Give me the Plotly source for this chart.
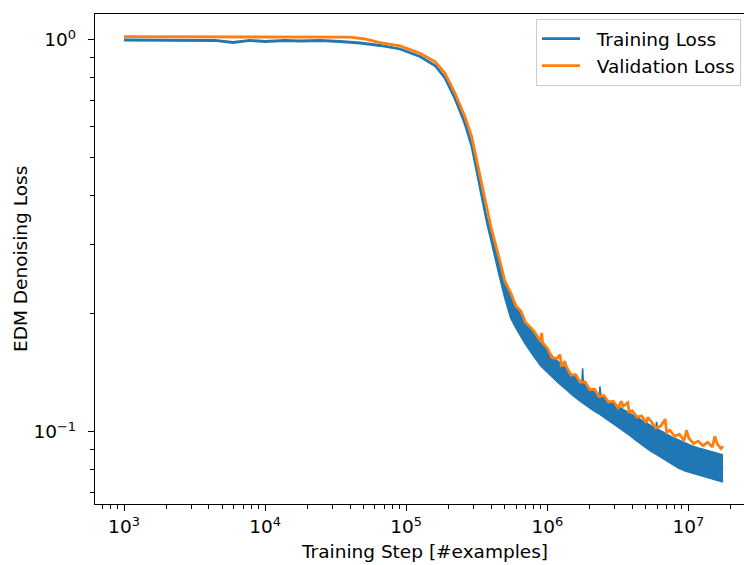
import plotly.graph_objects as go

# ---- Validation loss (orange) ----
val_step = [1e3, 3e3, 1e4, 2e4, 3e4, 4.0e4, 5.1e4, 6.52e4, 9.04e4, 1.253e5, 1.60e5,
            1.884e5, 2.218e5, 2.61e5, 2.912e5, 3.159e5, 3.429e5, 3.72e5, 4.0e5, 4.5e5,
            5.0e5, 5.5e5, 6.0e5, 6.5e5, 7.0e5, 8.0e5, 9.0e5, 9.13e5, 9.25e5,
            1.0e6, 1.08e6, 1.17e6, 1.23e6, 1.26e6, 1.33e6, 1.36e6, 1.47e6, 1.59e6, 1.71e6,
            1.85e6, 2.0e6, 2.16e6, 2.33e6, 2.52e6, 2.72e6, 2.94e6, 3.17e6, 3.36e6, 3.43e6,
            3.72e6, 3.8e6, 4.0e6, 4.32e6, 4.66e6, 5.03e6, 5.15e6, 5.44e6, 5.87e6, 6.34e6,
            6.85e6, 7.0e6, 7.4e6, 7.99e6, 8.63e6, 9.32e6, 9.7e6, 1.007e7, 1.087e7, 1.174e7,
            1.268e7, 1.37e7, 1.48e7, 1.54e7, 1.60e7, 1.70e7, 1.76e7]
val_loss = [1.0196, 1.0200, 1.0195, 1.0205, 1.0190, 1.0166, 1.0059, 0.9843, 0.9654, 0.9249, 0.8804,
            0.8225, 0.7314, 0.6370, 0.5669, 0.4944, 0.4222, 0.3685, 0.3315, 0.2828,
            0.2428, 0.2265, 0.2095, 0.2035, 0.1905, 0.1815, 0.1700, 0.1790, 0.1690,
            0.1638, 0.1547, 0.1540, 0.1575, 0.1469, 0.1515, 0.1471, 0.1398, 0.1400, 0.1339,
            0.1343, 0.1283, 0.1286, 0.1231, 0.1239, 0.1191, 0.1198, 0.1153, 0.1198, 0.1163,
            0.1188, 0.1125, 0.1133, 0.1091, 0.1099, 0.1056, 0.1090, 0.1065, 0.1023, 0.1034,
            0.1078, 0.0999, 0.1010, 0.0975, 0.0987, 0.0951, 0.1010, 0.0965, 0.0935, 0.0948,
            0.0923, 0.0941, 0.0915, 0.0975, 0.0933, 0.0907, 0.0920]

# ---- Training loss (blue): running value ----
train_step = [1e3, 2.494e3, 4.415e3, 5.922e3, 7.816e3, 9.985e3, 1.384e4, 1.767e4, 2.449e4,
              3.395e4, 4.705e4, 6.522e4, 9.037e4, 1.253e5, 1.60e5, 1.884e5, 2.218e5,
              2.61e5, 2.912e5, 3.159e5, 3.429e5, 3.72e5,
              4.0e5, 4.5e5, 5.0e5, 5.5e5, 6.0e5, 6.5e5, 7.0e5, 8.0e5, 9.0e5, 1.0e6,
              1.1e6, 1.2e6, 1.35e6, 1.5e6, 1.7e6, 1.9e6, 2.1e6, 2.4e6, 2.7e6, 3.0e6,
              3.4e6, 3.8e6, 4.3e6, 4.8e6, 5.4e6, 6.0e6, 6.8e6, 7.6e6, 8.5e6, 9.5e6,
              1.06e7, 1.18e7, 1.32e7, 1.47e7, 1.62e7, 1.76e7]
train_loss = [1.0, 1.0, 0.9971, 0.9854, 0.9971, 0.9912, 0.9971, 0.9941, 0.9971,
              0.9912, 0.9825, 0.9682, 0.9485, 0.9076, 0.8609, 0.8000, 0.7092,
              0.6123, 0.5381, 0.4660, 0.3988, 0.3474,
              0.3144, 0.2667, 0.2302, 0.2084, 0.1965, 0.1864, 0.1789, 0.1672, 0.1582, 0.1517,
              0.1460, 0.1419, 0.1369, 0.1318, 0.1272, 0.1235, 0.1203, 0.1169, 0.1135, 0.1108,
              0.1076, 0.1048, 0.1018, 0.0991, 0.0965, 0.0943, 0.0918, 0.0897, 0.0879, 0.0863,
              0.0851, 0.0841, 0.0831, 0.0821, 0.0812, 0.0807]

# ---- Training loss batch-to-batch spread (upper / lower edge) ----
train_hi_step = [3.72e5, 4.0e5, 4.5e5, 5.0e5, 5.5e5, 6.0e5, 6.5e5, 7.0e5, 8.0e5, 9.0e5, 1.0e6,
                 1.1e6, 1.2e6, 1.35e6, 1.5e6, 1.7e6, 1.76e6, 1.78e6, 1.80e6, 1.9e6, 2.1e6,
                 2.34e6, 2.36e6, 2.4e6, 2.7e6, 3.0e6, 3.4e6, 3.8e6, 4.3e6, 4.8e6, 5.4e6,
                 5.9e6, 5.95e6, 6.05e6, 6.8e6, 7.6e6, 8.5e6, 9.5e6, 1.06e7, 1.18e7, 1.32e7,
                 1.47e7, 1.62e7, 1.76e7]
train_hi = [0.3520, 0.3237, 0.2779, 0.2413, 0.2223, 0.2096, 0.1988, 0.1908, 0.1789, 0.1697, 0.1619,
            0.1553, 0.1509, 0.1456, 0.1398, 0.1349, 0.1338, 0.1454, 0.1334, 0.1310, 0.1272,
            0.1242, 0.1305, 0.1236, 0.1200, 0.1172, 0.1145, 0.1118, 0.1092, 0.1067, 0.1042,
            0.1020, 0.1062, 0.1016, 0.0994, 0.0971, 0.0954, 0.0937, 0.0921, 0.0910, 0.0900,
            0.0889, 0.0879, 0.0874]
train_lo_step = [3.72e5, 4.0e5, 4.5e5, 5.0e5, 5.5e5, 6.0e5, 6.5e5, 7.0e5, 8.0e5, 9.0e5, 1.0e6,
                 1.1e6, 1.2e6, 1.35e6, 1.5e6, 1.7e6, 1.9e6, 2.1e6, 2.4e6, 2.7e6, 3.0e6,
                 3.4e6, 3.8e6, 4.3e6, 4.8e6, 5.4e6, 6.0e6, 6.8e6, 7.6e6, 8.5e6, 9.5e6,
                 1.06e7, 1.18e7, 1.32e7, 1.47e7, 1.62e7, 1.76e7]
train_lo = [0.3430, 0.3053, 0.2560, 0.2197, 0.1953, 0.1842, 0.1747, 0.1677, 0.1563, 0.1474, 0.1422,
            0.1373, 0.1334, 0.1287, 0.1243, 0.1200, 0.1165, 0.1138, 0.1105, 0.1073, 0.1048,
            0.1012, 0.0983, 0.0949, 0.0921, 0.0894, 0.0874, 0.0848, 0.0829, 0.0809, 0.0795,
            0.0786, 0.0777, 0.0768, 0.0759, 0.0750, 0.0746]

BLUE = "#1f77b4"
ORANGE = "#ff7f0e"
FONT = "DejaVu Sans"
FS = 18.5
GAP = "\u00a0\u00a0"

fig = go.Figure()

fig.add_trace(go.Scatter(x=train_hi_step, y=train_hi, mode="lines",
                         line=dict(color=BLUE, width=1.6), showlegend=False,
                         hoverinfo="skip"))
fig.add_trace(go.Scatter(x=train_lo_step, y=train_lo, mode="lines",
                         line=dict(color=BLUE, width=1.6), fill="tonexty",
                         fillcolor=BLUE, showlegend=False, hoverinfo="skip"))
fig.add_trace(go.Scatter(x=train_step, y=train_loss, mode="lines",
                         line=dict(color=BLUE, width=2.8), name=GAP + "Training Loss"))
fig.add_trace(go.Scatter(x=val_step, y=val_loss, mode="lines",
                         line=dict(color=ORANGE, width=2.8), name=GAP + "Validation Loss"))

minor_x = [d * 10 ** e for e in range(2, 8) for d in range(2, 10)]
minor_y = [d * 10 ** e for e in range(-2, 1) for d in range(2, 10)]

axis_common = dict(
    type="log", showgrid=False, zeroline=False,
    showline=True, linecolor="black", linewidth=1.4,
    ticks="outside", ticklen=6, tickwidth=1.4, tickcolor="black",
    tickfont=dict(family=FONT, size=FS, color="black"),
)

fig.update_layout(
    width=744, height=565,
    margin=dict(l=95, r=0, t=14, b=61),
    paper_bgcolor="white", plot_bgcolor="white",
    font=dict(family=FONT, size=FS, color="black"),
    xaxis=dict(
        **axis_common, mirror=True, range=[2.7945, 7.394],
        tickmode="array",
        tickvals=[1e3, 1e4, 1e5, 1e6, 1e7],
        ticktext=["10<sup>3</sup>", "10<sup>4</sup>", "10<sup>5</sup>",
                  "10<sup>6</sup>", "10<sup>7</sup>"],
        minor=dict(tickmode="array", tickvals=minor_x, ticks="outside",
                   ticklen=3.5, tickwidth=1.05, tickcolor="black"),
    ),
    yaxis=dict(
        **axis_common, mirror=False, range=[-1.1837, 0.0663],
        tickmode="array",
        tickvals=[0.1, 1.0],
        ticktext=["10<sup>\u22121</sup>", "10<sup>0</sup>"],
        ticklabelstandoff=8,
        minor=dict(tickmode="array", tickvals=minor_y, ticks="outside",
                   ticklen=3.5, tickwidth=1.05, tickcolor="black"),
    ),
    legend=dict(
        x=(741 - 95) / 649, y=1 - (19 - 14) / 490,
        xanchor="right", yanchor="top", traceorder="normal",
        bgcolor="rgba(255,255,255,0.8)", bordercolor="#cccccc", borderwidth=1,
        font=dict(family=FONT, size=FS, color="black"),
        itemwidth=38,
    ),
    annotations=[
        dict(text="Training Step [#examples]", xref="paper", yref="paper",
             x=(424 - 95) / 649, y=-(551 - 504) / 490, xanchor="center",
             yanchor="middle", showarrow=False,
             font=dict(family=FONT, size=FS, color="black")),
        dict(text="EDM Denoising Loss", xref="paper", yref="paper",
             x=-(95 - 20) / 649, y=0.5, xanchor="center", yanchor="middle",
             textangle=-90, showarrow=False,
             font=dict(family=FONT, size=FS, color="black")),
    ],
)

fig.write_html("out.html")
